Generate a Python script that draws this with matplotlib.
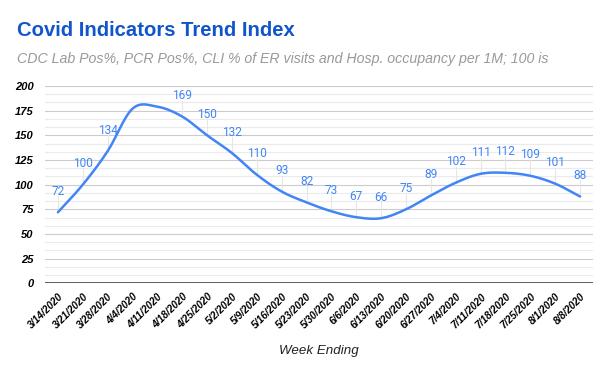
import numpy as np
import matplotlib
matplotlib.use("Agg")
import matplotlib.pyplot as plt

weeks = ["3/14/2020", "3/21/2020", "3/28/2020", "4/4/2020", "4/11/2020", "4/18/2020",
         "4/25/2020", "5/2/2020", "5/9/2020", "5/16/2020", "5/23/2020", "5/30/2020",
         "6/6/2020", "6/13/2020", "6/20/2020", "6/27/2020", "7/4/2020", "7/11/2020",
         "7/18/2020", "7/25/2020", "8/1/2020", "8/8/2020"]
index_values = [72, 100, 134, 177, 179, 169, 150, 132, 110, 93, 82, 73,
                67, 66, 75, 89, 102, 111, 112, 109, 101, 88]
y_ticks = [0, 25, 50, 75, 100, 125, 150, 175, 200]

title = "Covid Indicators Trend Index"
subtitle = "CDC Lab Pos%, PCR Pos%, CLI % of ER visits and Hosp. occupancy per 1M; 100 is"
x_label = "Week Ending"

LINE = "#4285f4"
FONT = "Liberation Sans"

fig = plt.figure(figsize=(6.12, 3.78), dpi=100)
ax = fig.add_axes([45 / 612, (378 - 283.3) / 378, (593 - 45) / 612, (283.3 - 86) / 378])

x = np.arange(len(index_values))
y = np.array(index_values, dtype=float)

# Catmull-Rom smoothing of the line (rendering only)
def smooth(xs, ys, n=30):
    px = np.concatenate([[2 * xs[0] - xs[1]], xs, [2 * xs[-1] - xs[-2]]])
    py = np.concatenate([[2 * ys[0] - ys[1]], ys, [2 * ys[-1] - ys[-2]]])
    ox, oy = [], []
    for i in range(1, len(px) - 2):
        t = np.linspace(0, 1, n, endpoint=False)
        for arr, out in ((px, ox), (py, oy)):
            p0, p1, p2, p3 = arr[i - 1], arr[i], arr[i + 1], arr[i + 2]
            out.extend(0.5 * ((2 * p1) + (-p0 + p2) * t + (2 * p0 - 5 * p1 + 4 * p2 - p3) * t ** 2
                              + (-p0 + 3 * p1 - 3 * p2 + p3) * t ** 3))
    ox.append(xs[-1]); oy.append(ys[-1])
    return np.array(ox), np.array(oy)

sx, sy = smooth(x.astype(float), y)

# gridlines
for v in np.arange(0, 200.01, 25 / 3):
    if abs(v / 25 - round(v / 25)) < 1e-6:
        continue
    ax.axhline(v, color="#ebebeb", lw=0.8, zorder=0)
for v in y_ticks[1:]:
    ax.axhline(v, color="#cccccc", lw=0.8, zorder=0)
ax.axhline(0, color="#333333", lw=1.1, zorder=1)

# data labels with leader lines
px_per_unit = (283.3 - 86) / 200
off = 21 / px_per_unit
for xi, yi in zip(x, y):
    if yi + off + 6 / px_per_unit > 200:
        continue
    ax.plot([xi, xi], [yi, yi + off - 5 / px_per_unit], color="#e6e6e6", lw=0.8, zorder=1)
    ax.text(xi, yi + off, str(int(yi)), ha="center", va="center", color=LINE,
            fontsize=8.6, family="Roboto", zorder=3)

ax.plot(sx, sy, color=LINE, lw=1.8, zorder=2, solid_capstyle="round")

ax.set_xlim(-0.52, len(x) - 1 + 0.52)
ax.set_ylim(0, 200)
ax.set_yticks(y_ticks)
ax.set_yticklabels([str(t) for t in y_ticks], fontsize=8, fontweight="bold",
                   fontstyle="italic", family=FONT)
ax.set_xticks(x)
ax.set_xticklabels(weeks, rotation=45, ha="right", va="top", rotation_mode="anchor",
                   fontsize=7.3, fontweight="bold", fontstyle="italic", family=FONT)
ax.tick_params(axis="both", length=0)
ax.tick_params(axis="y", pad=8)
ax.tick_params(axis="x", pad=6)
for s in ax.spines.values():
    s.set_visible(False)

fig.text(17 / 612, 1 - 30 / 378, title, fontsize=14.6, fontweight="bold", color="#1155cc",
         family=FONT, va="center", ha="left")
fig.text(17 / 612, 1 - 59 / 378, subtitle, fontsize=10.15, fontstyle="italic", color="#999999",
         family=FONT, va="center", ha="left")
fig.text(319 / 612, 1 - 351 / 378, x_label, fontsize=9.6, fontstyle="italic", color="#222222",
         family=FONT, va="center", ha="center")

fig.savefig("out.png", dpi=100, facecolor="white")
